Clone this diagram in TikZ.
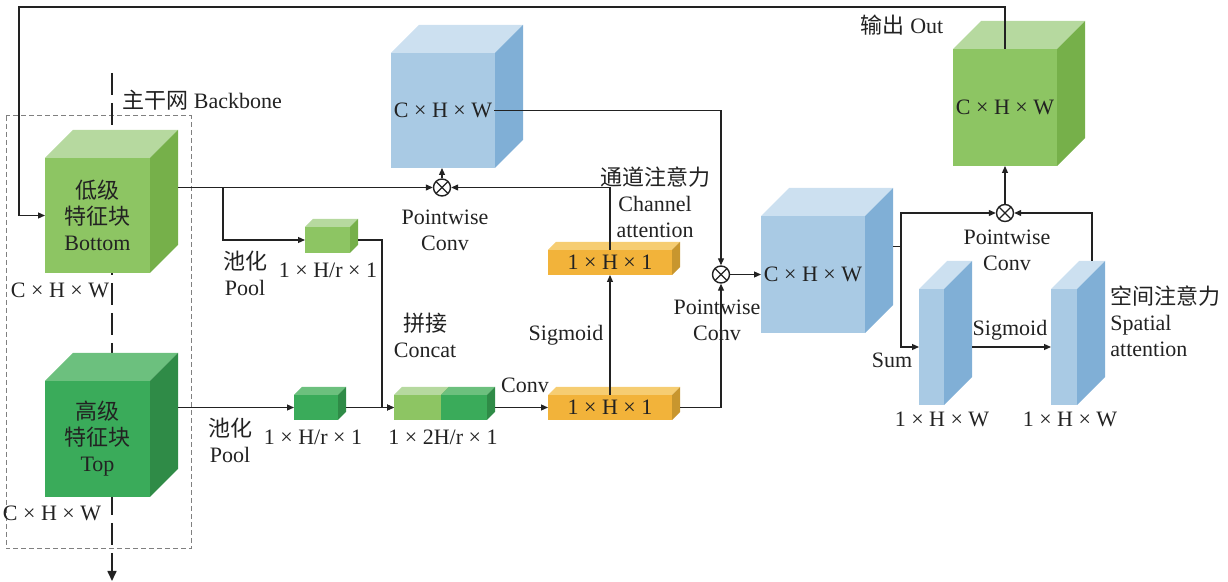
\documentclass[tikz,border=0pt]{standalone}
\usepackage{fontspec}
\setmainfont{Liberation Serif}
\newfontfamily\cjk{Noto Sans CJK SC}
\usetikzlibrary{arrows.meta,positioning}
\definecolor{cGreenL}{HTML}{8DC563}
\definecolor{cGreenLTop}{HTML}{B6D99F}
\definecolor{cGreenLSide}{HTML}{76B04A}
\definecolor{cGreenD}{HTML}{3AAB5A}
\definecolor{cGreenDTop}{HTML}{6CC07E}
\definecolor{cGreenDSide}{HTML}{2F8B47}
\definecolor{cBlue}{HTML}{A9CAE4}
\definecolor{cBlueTop}{HTML}{CCE0F0}
\definecolor{cBlueSide}{HTML}{80AFD6}
\definecolor{cOrange}{HTML}{F2B33A}
\definecolor{cOrangeTop}{HTML}{F6CD72}
\definecolor{cOrangeSide}{HTML}{C8962E}
\definecolor{cLine}{HTML}{222222}
\definecolor{cFrame}{HTML}{808080}
\tikzset{
  arrow/.style={-{Triangle[length=3.5pt,width=3pt]}, line width=0.6pt, draw=cLine},
  wire/.style ={line width=0.6pt, draw=cLine},
  facebox/.style={rectangle, inner sep=0pt, outer sep=0pt},
  pwop/.style={circle, draw=cLine, line width=0.7pt, fill=white, inner sep=0pt, minimum size=8.5pt,
    path picture={\draw[line width=0.6pt] (path picture bounding box.north west) -- (path picture bounding box.south east)
      (path picture bounding box.north east) -- (path picture bounding box.south west);}},
  lbl/.style={font=\fontsize{11}{13}\selectfont, inner sep=1pt, align=center, text=cLine},
}
% cuboid: name, x, y, width, height, depth, front, top, side
\newcommand{\cuboid}[9]{%
  \fill[#8] (#2,#3) -- ++(#4,0) -- ++(#6,-#6) -- ++(-#4,0) -- cycle;
  \fill[#9] (#2+#4,#3) -- ++(#6,-#6) -- ++(0,#5) -- ++(-#6,#6) -- cycle;
  \node[facebox, fill=#7, minimum width=#4*0.5pt, minimum height=#5*0.5pt, anchor=north west] (#1) at (#2,#3) {};
  \node[facebox, minimum width=#4*0.5pt, minimum height=#5*0.5pt, anchor=north west] (#1b) at (#2+#6,#3-#6) {};
}

\begin{document}
\begin{tikzpicture}[x=0.5pt,y=-0.5pt]
  \useasboundingbox (0,0) rectangle (1228,582);
  % backbone
  \draw[cFrame, dash pattern=on 2.5pt off 1.5pt, line width=0.5pt] (6,116) rectangle (191,549);
  \coordinate (bbtop) at (112,73);
  \coordinate (bbend) at (112,581);
  \draw[-{Triangle[length=5pt,width=4.5pt]}, cLine, line width=0.8pt, dash pattern=on 11pt off 4pt] (bbtop) -- (bbend);

  % blocks
  \cuboid{low}{45}{158}{105}{115}{28}{cGreenL}{cGreenLTop}{cGreenLSide}
  \cuboid{high}{45}{381}{105}{116}{28}{cGreenD}{cGreenDTop}{cGreenDSide}
  \cuboid{pool1}{305}{227}{45}{26}{8}{cGreenL}{cGreenLTop}{cGreenLSide}
  \cuboid{pool2}{294}{395}{44}{25}{8}{cGreenD}{cGreenDTop}{cGreenDSide}
  \cuboid{cat1}{394}{395}{47}{25}{8}{cGreenL}{cGreenLTop}{cGreenLSide}
  \cuboid{cat2}{441}{395}{46}{25}{8}{cGreenD}{cGreenDTop}{cGreenDSide}
  \cuboid{conv}{548}{395}{124}{25}{8}{cOrange}{cOrangeTop}{cOrangeSide}
  \cuboid{chatt}{548}{250}{124}{25}{8}{cOrange}{cOrangeTop}{cOrangeSide}
  \cuboid{feat}{391}{53}{104}{115}{28}{cBlue}{cBlueTop}{cBlueSide}
  \cuboid{mid}{761}{216}{104}{117}{28}{cBlue}{cBlueTop}{cBlueSide}
  \cuboid{sum}{919}{289}{25}{116}{28}{cBlue}{cBlueTop}{cBlueSide}
  \cuboid{satt}{1051}{289}{26}{116}{28}{cBlue}{cBlueTop}{cBlueSide}
  \cuboid{out}{953}{49}{104}{117}{28}{cGreenL}{cGreenLTop}{cGreenLSide}

  \node[pwop] (pw1) at (442,187.5) {};
  \node[pwop] (pw2) at (721,274.5) {};
  \node[pwop] (pw3) at (1005,213) {};

  % texts
  \node[lbl] (lowtxt) at (low) {{\cjk 低级}\\{\cjk 特征块}\\Bottom};
  \node[lbl] (hightxt) at (high) {{\cjk 高级}\\{\cjk 特征块}\\Top};
  \node[lbl, anchor=west] (bbname) at (120,100) {{\cjk 主干网} Backbone};
  \node[lbl] (lowdim) at (60,290) {C × H × W};
  \node[lbl] (highdim) at (52,513) {C × H × W};
  \node[lbl] (pool1txt) at (245,273) {{\cjk 池化}\\Pool};
  \node[lbl] (pool2txt) at (230,440) {{\cjk 池化}\\Pool};
  \node[lbl] (pool1dim) at (328,270) {1 × H/r × 1};
  \node[lbl] (pool2dim) at (313,437) {1 × H/r × 1};
  \node[lbl] (cattxt) at (425,335) {{\cjk 拼接}\\Concat};
  \node[lbl] (catdim) at (443,437) {1 × 2H/r × 1};
  \node[lbl] (convtxt) at (525,385) {Conv};
  \node[lbl] (convdim) at (conv) {1 × H × 1};
  \node[lbl] (chattdim) at (chatt) {1 × H × 1};
  \node[lbl] (sig1txt) at (566,335) {Sigmoid};
  \node[lbl] (chatttxt) at (655,202) {{\cjk 通道注意力}\\Channel\\attention};
  \node[lbl] (pw1txt) at (445,230) {Pointwise\\Conv};
  \node[lbl] (pw2txt) at (717,320) {Pointwise\\Conv};
  \node[lbl] (pw3txt) at (1007,250) {Pointwise\\Conv};
  \node[lbl] (featlbl) at (feat) {C × H × W};
  \node[lbl] (midlbl) at (mid) {C × H × W};
  \node[lbl] (outlbl) at (out) {C × H × W};
  \node[lbl] (outtxt) at (902,25) {{\cjk 输出} Out};
  \node[lbl] (sumtxt) at (892,360) {Sum};
  \node[lbl] (sig2txt) at (1010,330) {Sigmoid};
  \node[lbl] (sumdim) at (942,419) {1 × H × W};
  \node[lbl] (sattdim) at (1070,419) {1 × H × W};
  \node[lbl, anchor=west, align=left] (satttxt) at (1108,321) {{\cjk 空间注意力}\\Spatial\\attention};

  % connectors
  \coordinate (lowsplit) at (223,187.5);
  \coordinate (catjoin) at (382,407.5);
  \coordinate (midsplit) at (901,246.5);
  \coordinate (loopcorner) at (19,7);
  \draw[arrow] (lowb.east) -- (pw1.west);
  \draw[arrow] (lowsplit) |- (pool1.west);
  \draw[arrow] (highb.east |- pool2.west) -- (pool2.west);
  \draw[arrow] (pool1b.east |- pool1.east) -| (catjoin) -- (cat1.west);
  \draw[arrow] (pool2b.east |- pool2.east) -- (cat1.west);
  \draw[arrow] (cat2b.east |- cat2.east) -- (conv.west);
  \draw[arrow] (conv.north) -- (chatt.south);
  \draw[arrow] (chatt.north) |- (pw1.east);
  \draw[arrow] (pw1.north) -- (pw1.north |- feat.south);
  \draw[arrow] (featlbl.east) -| (pw2.north);
  \draw[arrow] (convb.east |- conv.east) -| (pw2.south);
  \draw[arrow] (pw2.east) -- (mid.west);
  \draw[wire] (midb.east) -- (midsplit);
  \draw[arrow] (midsplit) |- (pw3.west);
  \draw[arrow] (midsplit) |- (sum.west);
  \draw[arrow] (sumb.east |- sum.east) -- (satt.west);
  \draw[arrow] (sattb.north) |- (pw3.east);
  \draw[arrow] (pw3.north) -- (out.south);
  \draw[arrow] (out.north) |- (loopcorner) |- (low.west);
\end{tikzpicture}
\end{document}
